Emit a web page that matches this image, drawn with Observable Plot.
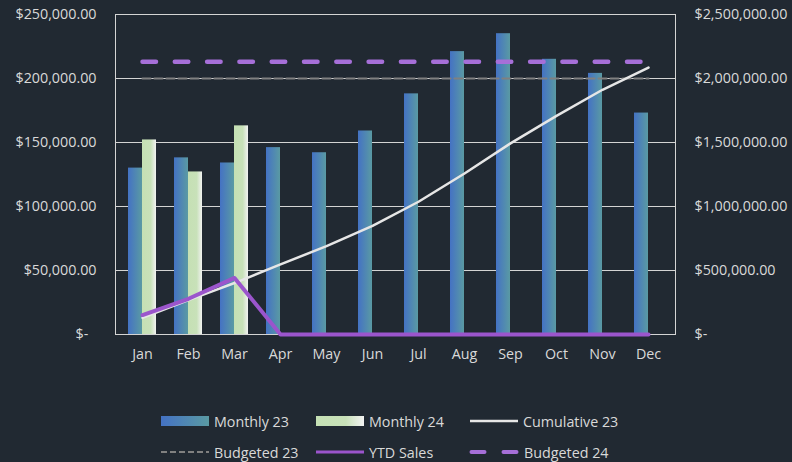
<!DOCTYPE html>
<html>
<head>
<meta charset="utf-8">
<script src="https://cdn.jsdelivr.net/npm/d3@7"></script>
<script src="https://cdn.jsdelivr.net/npm/@observablehq/plot@0.6"></script>
<style>
  html, body { margin: 0; padding: 0; background: #212932; }
  body { width: 792px; height: 462px; overflow: hidden; font-family: "Open Sans", sans-serif; color: #d9d9d9; }
  #legend { position: relative; width: 792px; height: 67px; font-size: 14.3px; }
  .item { position: absolute; display: flex; align-items: center; white-space: nowrap; height: 20px; }
  .item svg { display: block; margin-right: 5px; }
</style>
</head>
<body>
<div id="chart"></div>
<div id="legend"></div>
<script>
const months = ["Jan","Feb","Mar","Apr","May","Jun","Jul","Aug","Sep","Oct","Nov","Dec"];
const monthly23 = [130000,138000,134000,146000,142000,159000,188000,221000,235000,215000,204000,173000];
const monthly24 = [152000,127000,163000];
const cumulative23 = [130000,268000,402000,548000,690000,849000,1037000,1258000,1493000,1708000,1912000,2085000];
const ytdSales = [152000,279000,442000,0,0,0,0,0,0,0,0,0];
const budgeted23 = [200000,200000,200000,200000,200000,200000,200000,200000,200000,200000,200000,200000];
const budgeted24 = [213000,213000,213000,213000,213000,213000,213000,213000,213000,213000,213000,213000];
const leftTicks = [0,50000,100000,150000,200000,250000];
const rightTicks = [0,500000,1000000,1500000,2000000,2500000];
const legendRow1 = ["Monthly 23","Monthly 24","Cumulative 23"];
const legendRow2 = ["Budgeted 23","YTD Sales","Budgeted 24"];

const ratio = rightTicks[5] / leftTicks[5];
const fmt = v => v === 0 ? "$-\u2007" : "$" + d3.format(",.2f")(v);
const fmtR = v => v === 0 ? "$-" : "$" + d3.format(",.2f")(v);

const t23 = months.map((m, i) => ({month: m, value: monthly23[i]}));
const t24 = monthly24.map((v, i) => ({month: months[i], value: v}));
const tCum = months.map((m, i) => ({month: m, value: cumulative23[i] / ratio}));
const tYtd = months.map((m, i) => ({month: m, value: ytdSales[i] / ratio}));
const tB23 = months.map((m, i) => ({month: m, value: budgeted23[i]}));
const tB24 = months.map((m, i) => ({month: m, value: budgeted24[i]}));

const chart = Plot.plot({
  width: 792,
  height: 395,
  marginLeft: 115,
  marginRight: 117,
  marginTop: 14,
  marginBottom: 61,
  style: {background: "transparent", color: "#d9d9d9", fontFamily: "'Open Sans', sans-serif", fontSize: "14.3px"},
  x: {type: "band", domain: months, paddingInner: 0.4, paddingOuter: 0.2, label: null},
  y: {domain: [0, 250000], label: null},
  marks: [
    Plot.gridY(leftTicks, {stroke: "#d4d4d4", strokeOpacity: 1, strokeWidth: 1}),
    Plot.frame({stroke: "#d4d4d4", strokeWidth: 1}),
    Plot.barY(t23, {x: "month", y: "value", fill: "url(#g23)", insetRight: 14, insetLeft: 0}),
    Plot.barY(t24, {x: "month", y: "value", fill: "url(#g24)", insetLeft: 14, insetRight: 0}),
    Plot.line(tB23, {x: "month", y: "value", stroke: "#808080", strokeWidth: 2.2, strokeDasharray: "8,4"}),
    Plot.line(tB24, {x: "month", y: "value", stroke: "#a66fd8", strokeWidth: 4.5, strokeDasharray: "13.5,18.8", strokeLinecap: "round"}),
    Plot.line(tCum, {x: "month", y: "value", stroke: "#e6e6e6", strokeWidth: 2.5}),
    Plot.line(tYtd, {x: "month", y: "value", stroke: "#9b55cc", strokeWidth: 4}),
    Plot.axisX({anchor: "bottom", tickSize: 0, tickPadding: 14, label: null}),
    Plot.axisY(leftTicks, {anchor: "left", tickSize: 0, tickPadding: 19, tickFormat: fmt, label: null}),
    Plot.axisY(leftTicks, {anchor: "right", tickSize: 0, tickPadding: 19, tickFormat: d => fmtR(d * ratio), label: null})
  ]
});

const defs = d3.select(chart).insert("defs", ":first-child");
const g1 = defs.append("linearGradient").attr("id", "g23").attr("x1", 0).attr("x2", 1).attr("y1", 0).attr("y2", 0);
g1.append("stop").attr("offset", "0%").attr("stop-color", "#4472c4");
g1.append("stop").attr("offset", "100%").attr("stop-color", "#5a9aa3");
const g2 = defs.append("linearGradient").attr("id", "g24").attr("x1", 0).attr("x2", 1).attr("y1", 0).attr("y2", 0);
g2.append("stop").attr("offset", "0%").attr("stop-color", "#c5e0b4");
g2.append("stop").attr("offset", "62%").attr("stop-color", "#c8e1b9");
g2.append("stop").attr("offset", "100%").attr("stop-color", "#f2f2f2");

document.getElementById("chart").appendChild(chart);

// legend
const legend = d3.select("#legend");
const swatches = [
  '<svg width="48" height="12"><rect x="0" y="1" width="48" height="10" fill="url(#g23)"/></svg>',
  '<svg width="48" height="12"><rect x="0" y="1" width="48" height="10" fill="url(#g24)"/></svg>',
  '<svg width="48" height="12"><line x1="0" x2="48" y1="6" y2="6" stroke="#e6e6e6" stroke-width="2.5"/></svg>',
  '<svg width="48" height="12"><line x1="0" x2="48" y1="6" y2="6" stroke="#808080" stroke-width="2.2" stroke-dasharray="6,3"/></svg>',
  '<svg width="48" height="12"><line x1="0" x2="48" y1="6" y2="6" stroke="#9b55cc" stroke-width="3"/></svg>',
  '<svg width="50" height="12"><line x1="2.5" x2="48" y1="6" y2="6" stroke="#a66fd8" stroke-width="4" stroke-linecap="round" stroke-dasharray="13,19"/></svg>'
];
const lefts = [161, 316, 470];
const tops = [16, 47];
[legendRow1, legendRow2].forEach((row, r) => {
  row.forEach((name, i) => {
    legend.append("div").attr("class", "item")
      .style("left", (lefts[i] - (r === 1 && i === 2 ? 1 : 0)) + "px")
      .style("top", tops[r] + "px")
      .html(swatches[r * 3 + i] + "<span>" + name + "</span>");
  });
});
</script>
</body>
</html>
